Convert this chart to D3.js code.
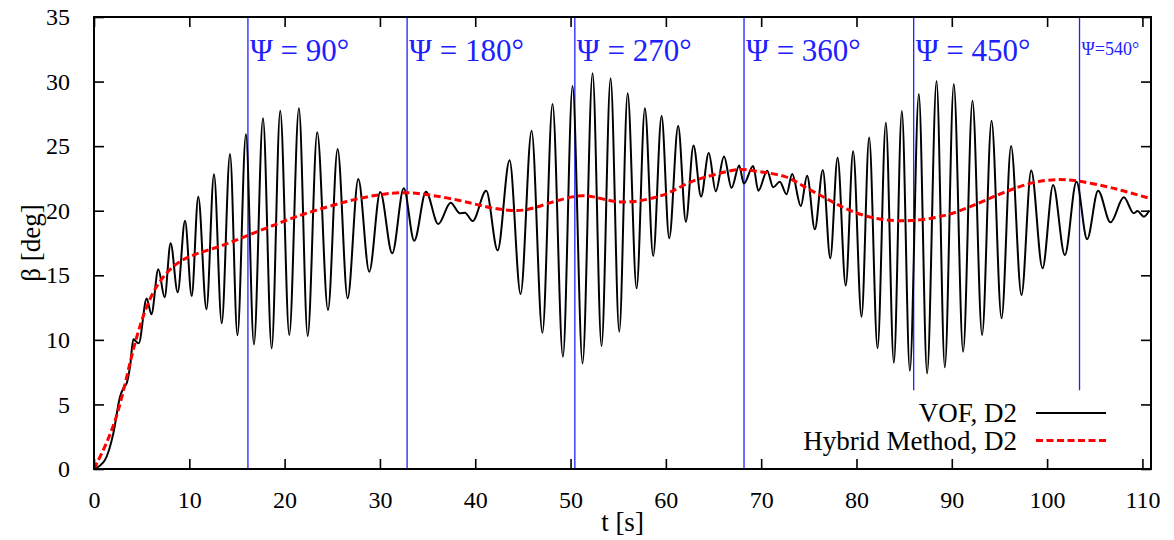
<!DOCTYPE html>
<html>
<head>
<meta charset="utf-8">
<script src="https://cdn.jsdelivr.net/npm/d3@7"></script>
<style>
  html, body { margin: 0; padding: 0; background: #fff; }
  svg text { font-family: "Liberation Serif", "DejaVu Serif", serif; }
</style>
</head>
<body>
<div id="chart"></div>
<script>
// VOF, D2 : extrema of the oscillating roll angle [t (s), beta (deg)]
const vofT = [0, 1.15, 2.03, 2.73, 3.08, 3.43, 3.78, 4.13, 4.69, 5.53, 6.02, 6.75, 7.41, 8.04, 8.78, 9.55,
  10.25, 10.94, 11.8, 12.59, 13.4, 14.27, 15.05, 15.94, 16.78, 17.73, 18.64, 19.54, 20.49, 21.5, 22.42,
  23.42, 24.55, 25.56, 26.61, 27.73, 28.88, 30.03, 31.29, 32.5, 33.6, 34.83, 36.12, 37.42, 38.39, 38.92,
  39.72, 41.15, 42.35, 43.6, 44.76, 45.91, 47.05, 48.11, 49.2, 50.21, 51.26, 52.31, 53.25, 54.2, 55.11,
  55.99, 56.93, 57.8, 58.67, 59.55, 60.35, 61.29, 62.1, 62.9, 63.69, 64.5, 65.23, 66.1, 66.89, 67.69,
  68.18, 69.16, 69.7, 70.63, 71.26, 71.96, 72.66, 73.25, 74.16, 74.82, 75.63, 76.47, 77.25, 78.02, 78.87,
  79.65, 80.53, 81.33, 82.21, 83.08, 83.92, 84.76, 85.6, 86.54, 87.41, 88.4, 89.27, 90.21, 91.19, 92.17,
  93.18, 94.17, 95.22, 96.22, 97.31, 98.33, 99.52, 100.63, 101.86, 103.08, 104.2, 105.35, 106.65, 108.05,
  109.1, 109.48, 110.15, 110.7]
const vofBeta = [0, 0.7, 2.76, 5.6, 6.25, 6.64, 7.92, 10.04, 9.73, 13.2, 11.98, 15.46, 13.3, 17.48, 13.68, 19.23,
  13.4, 21.09, 12.37, 22.82, 11.28, 24.39, 10.35, 25.92, 9.65, 27.16, 9.34, 27.75, 10.38, 27.93, 10.3,
  26.07, 12.31, 24.78, 13.22, 22.46, 15.28, 21.45, 16.7, 21.74, 17.67, 21.47, 18.97, 20.62, 19.8, 19.85,
  19.2, 21.54, 16.93, 23.9, 13.55, 26.2, 10.55, 28.26, 8.7, 29.66, 8.18, 30.64, 9.52, 30.25, 10.63,
  29.09, 13.99, 27.93, 16.49, 27.33, 17.86, 26.56, 19.15, 25.05, 21.1, 24.46, 21.5, 24.19, 21.77, 23.5,
  22.1, 23.46, 21.55, 23.1, 21.81, 22.25, 21.27, 22.84, 20.37, 22.71, 18.56, 23.15, 16.32, 24.1, 14.2,
  24.6, 11.79, 25.66, 9.35, 26.82, 8.23, 27.72, 7.61, 29.04, 7.41, 30.04, 7.87, 29.81, 9.08, 28.52,
  10.38, 26.97, 11.67, 25.01, 13.47, 23.12, 15.54, 21.99, 16.57, 22.25, 17.79, 21.55, 19.1, 21.04,
  19.8, 19.98, 19.54, 20.0]

// Hybrid Method, D2
const hybT = [0, 2.38, 3.78, 5.17, 6.58, 8.67, 10.77, 13.22, 16.1, 19.51, 21.61, 26.85, 30, 32.5, 34.5,
  38.39, 41.19, 43.64, 45.39, 47.6, 50.63, 52.38, 55.18, 58.3, 60.42, 62.52, 64.96, 67.7, 69.52, 72.66,
  74.41, 76.5, 79.1, 82.3, 85.5, 89.45, 92.94, 95.5, 98.53, 101.2, 103.2, 106.4, 108.33, 110.77]
const hybBeta = [0, 3.54, 8.44, 12.06, 14.38, 16.05, 16.7, 17.21, 18.08, 19.07, 19.67, 20.83, 21.27, 21.45, 21.32,
  20.83, 20.26, 20.0, 20.0, 20.57, 21.22, 21.14, 20.52, 20.88, 21.35, 22.3, 22.75, 23.32, 23.02, 22.77,
  21.86, 21.1, 20.0, 19.28, 19.15, 19.54, 20.62, 21.45, 22.25, 22.47, 22.33, 21.86, 21.47, 20.96]

// heading markers
const psiT = [16.15, 32.85, 50.45, 68.2, 86.0, 103.4]
const psiLabels = ["90", "180", "270", "360", "450", "540"]
const psiShort = [false, false, false, false, true, true]

const xTicks = d3.range(0, 111, 10)
const yTicks = d3.range(0, 36, 5)

const width = 1174
const height = 540
const margin = [17, 23, 71, 94] // top right bottom left
const x0 = margin[3], x1 = width - margin[1]
const y0 = height - margin[2], y1 = margin[0]

const xScale = d3.scaleLinear().domain([0, 110.9]).range([x0, x1])
const yScale = d3.scaleLinear().domain([0, 35]).range([y0, y1])

const svg = d3.select("#chart").append("svg")
  .attr("width", width)
  .attr("height", height)
  .attr("viewBox", [0, 0, width, height])

// vertical heading lines
const psi = svg.append("g").attr("class", "psi")
psiT.forEach((t, i) => {
  psi.append("line")
    .attr("x1", xScale(t)).attr("x2", xScale(t))
    .attr("y1", y1)
    .attr("y2", psiShort[i] ? yScale(6.1) : y0)
    .attr("stroke", "#2020ff")
    .attr("stroke-width", 1.3)
  const big = i < 5
  psi.append("text")
    .attr("x", xScale(t) + 2)
    .attr("y", big ? 61 : 55)
    .attr("fill", "#2020ff")
    .attr("font-size", big ? 31 : 18)
    .text(big ? `Ψ = ${psiLabels[i]}°` : `Ψ=${psiLabels[i]}°`)
})

// lines
const vofData = d3.zip(vofT, vofBeta)
const hybData = d3.zip(hybT, hybBeta)

const line = d3.line()
  .x(d => xScale(d[0]))
  .y(d => yScale(d[1]))
  .curve(d3.curveMonotoneX)

svg.append("path")
  .datum(vofData)
  .attr("fill", "none")
  .attr("stroke", "#000")
  .attr("stroke-width", 2)
  .attr("d", line)

svg.append("path")
  .datum(hybData)
  .attr("fill", "none")
  .attr("stroke", "#ff0000")
  .attr("stroke-width", 3)
  .attr("stroke-dasharray", "7,3.5")
  .attr("d", line.curve(d3.curveBasis))

// axes, gnuplot style: inward ticks on all four sides
const tickLen = 10
svg.append("g")
  .attr("transform", `translate(0,${y0})`)
  .call(d3.axisBottom(xScale).tickValues(xTicks).tickSizeInner(-tickLen).tickSizeOuter(0).tickPadding(22))
svg.append("g")
  .attr("transform", `translate(0,${y1})`)
  .call(d3.axisTop(xScale).tickValues(xTicks).tickSizeInner(-tickLen).tickSizeOuter(0).tickFormat(""))
svg.append("g")
  .attr("transform", `translate(${x0},0)`)
  .call(d3.axisLeft(yScale).tickValues(yTicks).tickSizeInner(-tickLen).tickSizeOuter(0).tickPadding(24))
svg.append("g")
  .attr("transform", `translate(${x1},0)`)
  .call(d3.axisRight(yScale).tickValues(yTicks).tickSizeInner(-tickLen).tickSizeOuter(0).tickFormat(""))

svg.selectAll(".tick line").attr("stroke-width", 1.6)
svg.selectAll(".domain").remove()
svg.selectAll(".tick text")
  .style("font-family", "'Liberation Serif', serif")
  .attr("font-size", 24)
  .attr("fill", "#000")

svg.append("rect")
  .attr("x", x0).attr("y", y1)
  .attr("width", x1 - x0).attr("height", y0 - y1)
  .attr("fill", "none")
  .attr("stroke", "#000")
  .attr("stroke-width", 2)

// axis titles
svg.append("text")
  .attr("x", (x0 + x1) / 2)
  .attr("y", 531)
  .attr("text-anchor", "middle")
  .attr("font-size", 27)
  .text("t [s]")
svg.append("text")
  .attr("transform", `translate(40,${(y0 + y1) / 2}) rotate(-90)`)
  .attr("text-anchor", "middle")
  .attr("font-size", 27)
  .text("β [deg]")

// legend
const legend = [
  { name: "VOF, D2", color: "#000", width: 2, dash: null },
  { name: "Hybrid Method, D2", color: "#ff0000", width: 3, dash: "7,3.5" }
]
const lg = svg.append("g").attr("class", "legend")
legend.forEach((d, i) => {
  const yy = 413 + i * 27.5
  lg.append("text")
    .attr("x", 1017)
    .attr("y", yy + 9)
    .attr("text-anchor", "end")
    .attr("font-size", 27)
    .text(d.name)
  lg.append("line")
    .attr("x1", 1036).attr("x2", 1106)
    .attr("y1", yy).attr("y2", yy)
    .attr("stroke", d.color)
    .attr("stroke-width", d.width)
    .attr("stroke-dasharray", d.dash)
})
</script>
</body>
</html>
